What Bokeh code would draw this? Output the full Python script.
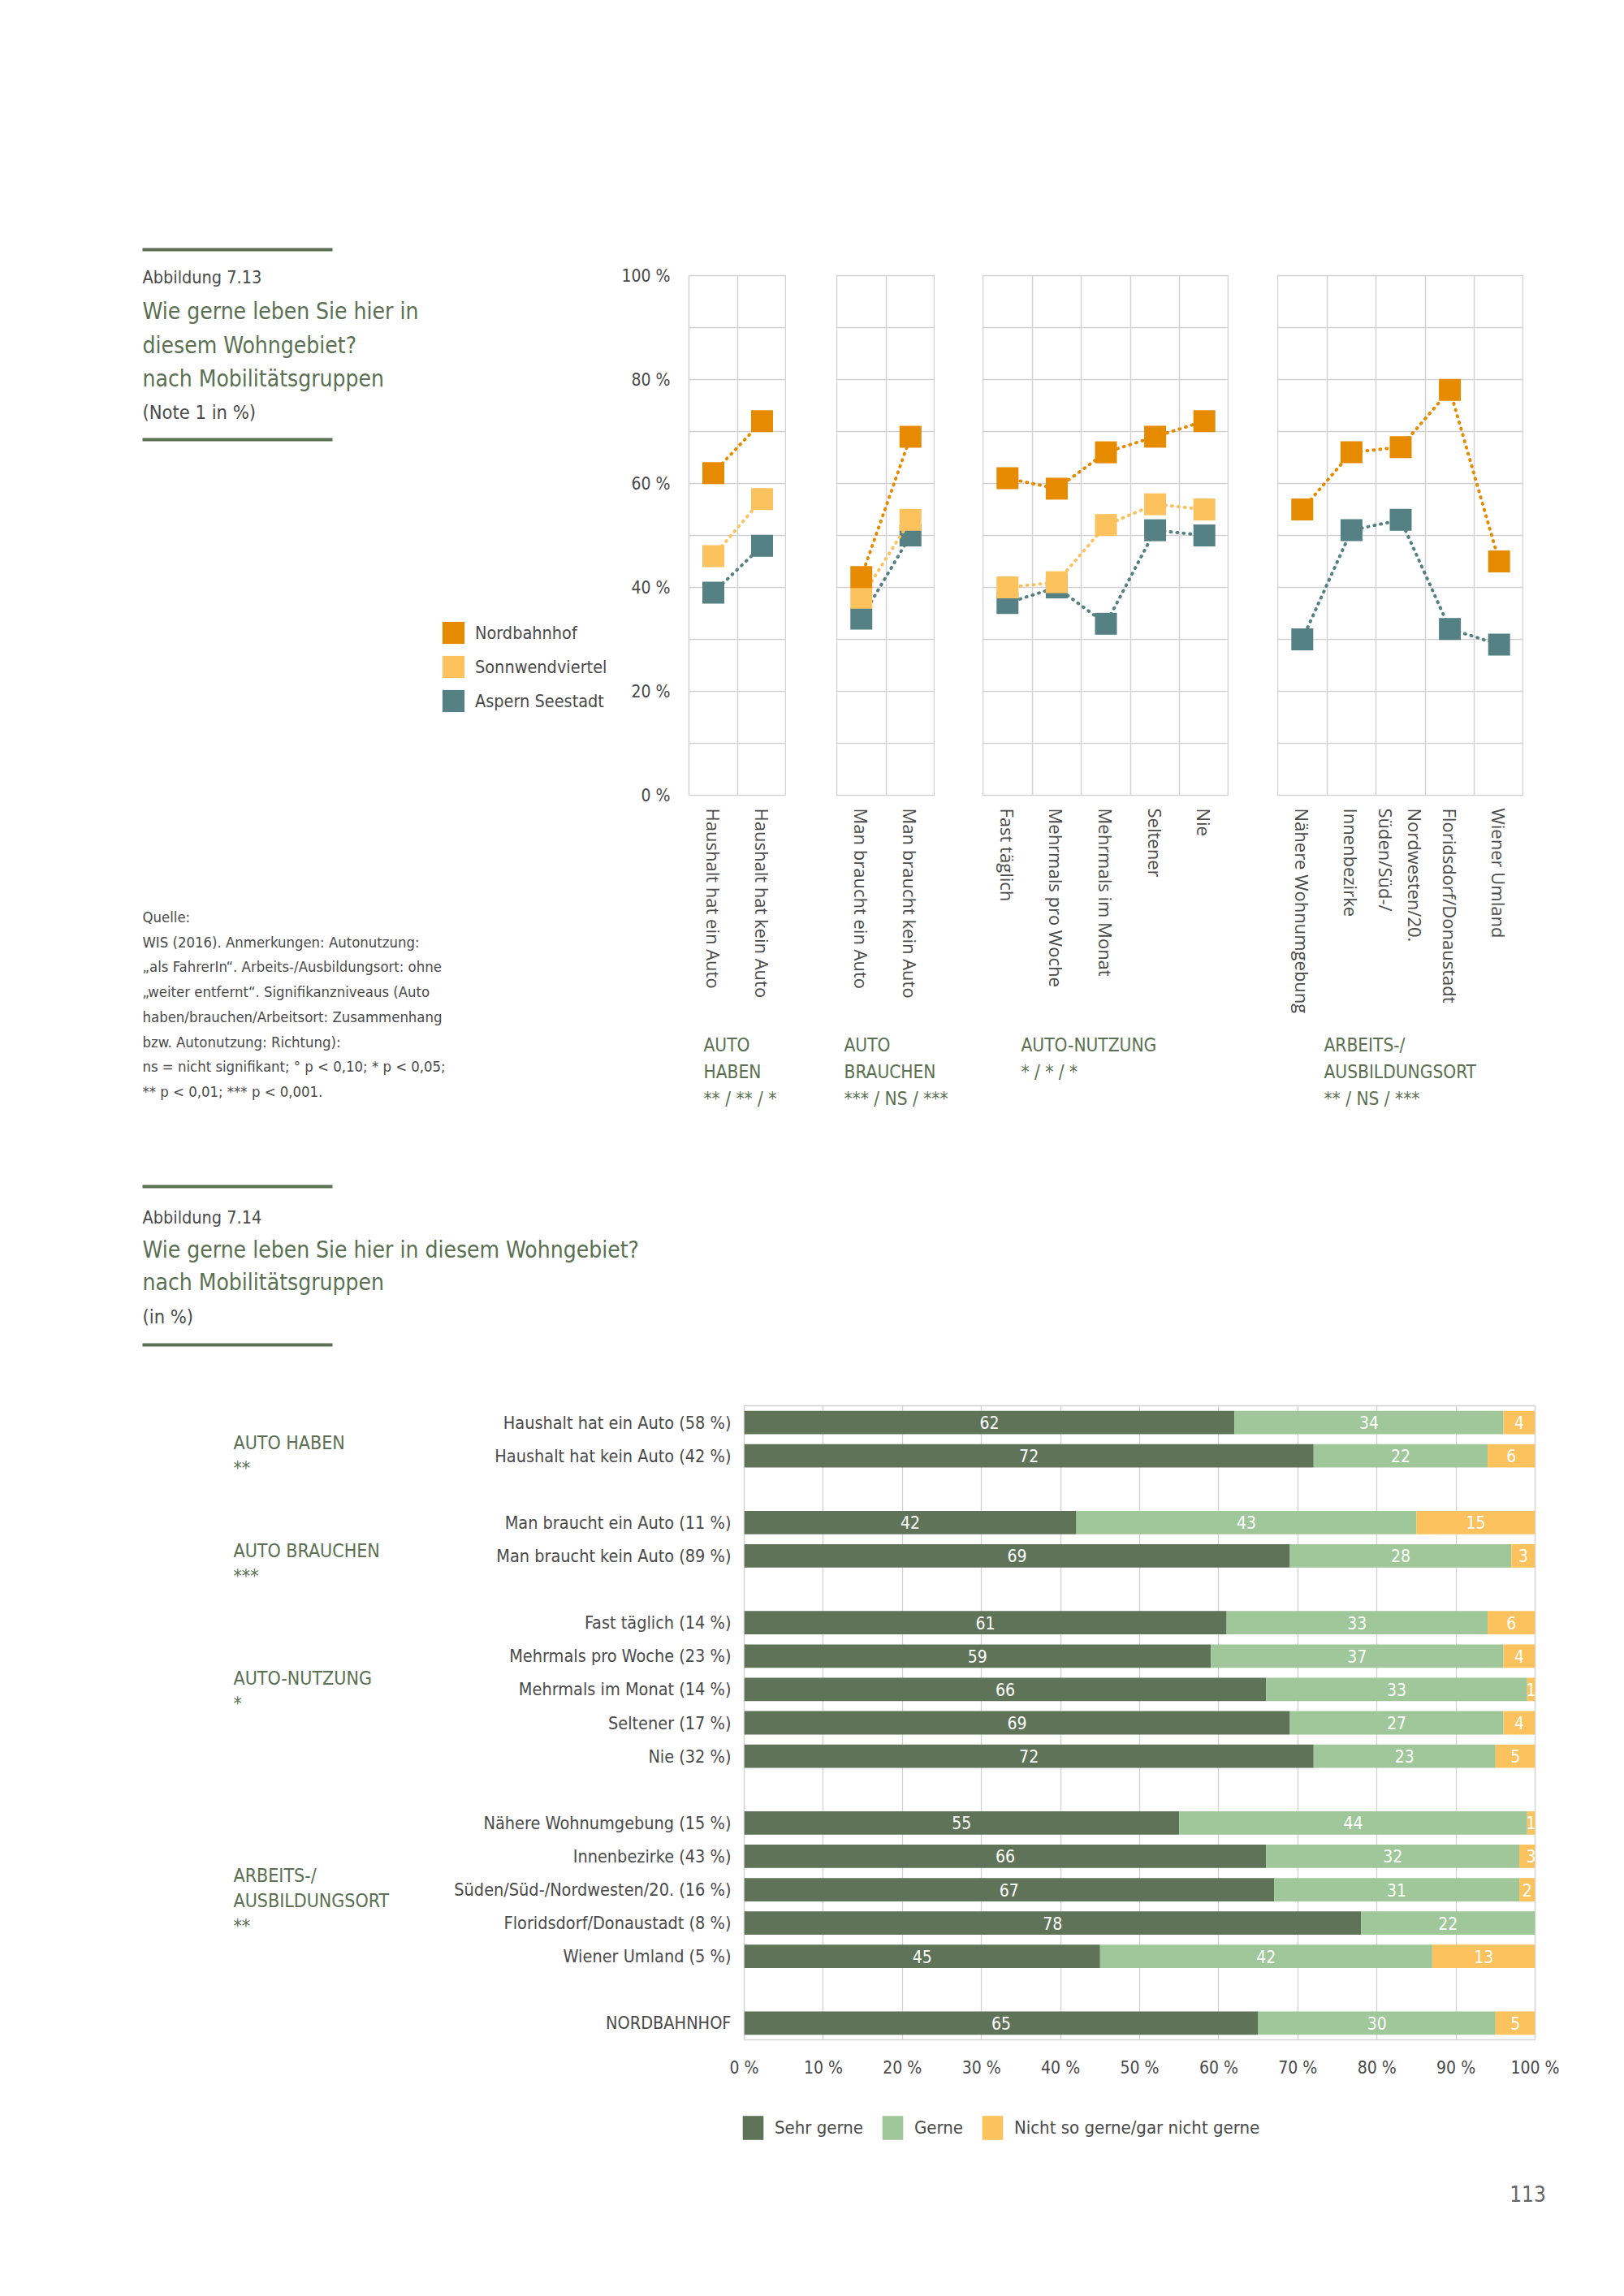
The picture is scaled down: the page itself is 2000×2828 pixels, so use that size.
from bokeh.plotting import figure
from bokeh.models import (ColumnDataSource, FactorRange, Range1d, Label, LabelSet, Legend,
                          LegendItem, Spacer, FixedTicker, BoxAnnotation)
from bokeh.layouts import row, column
from bokeh.embed import file_html
from bokeh.resources import INLINE
from bokeh.core.properties import value

# ---------------- data: Abbildung 7.13 (Note 1 in %) ----------------
series_names = ["Nordbahnhof", "Sonnwendviertel", "Aspern Seestadt"]

haben_cats = ["Haushalt hat ein Auto", "Haushalt hat kein Auto"]
haben_nordbahnhof = [62, 72]
haben_sonnwendviertel = [46, 57]
haben_aspern = [39, 48]

brauchen_cats = ["Man braucht ein Auto", "Man braucht kein Auto"]
brauchen_nordbahnhof = [42, 69]
brauchen_sonnwendviertel = [38, 53]
brauchen_aspern = [34, 50]

nutzung_cats = ["Fast täglich", "Mehrmals pro Woche", "Mehrmals im Monat", "Seltener", "Nie"]
nutzung_nordbahnhof = [61, 59, 66, 69, 72]
nutzung_sonnwendviertel = [40, 41, 52, 56, 55]
nutzung_aspern = [37, 40, 33, 51, 50]

# two-line label: Bokeh stacks rotated lines in reverse, so the second line is given first
ort_cats = ["Nähere Wohnumgebung", "Innenbezirke", "Nordwesten/20.\nSüden/Süd-/",
            "Floridsdorf/Donaustadt", "Wiener Umland"]
ort_nordbahnhof = [55, 66, 67, 78, 45]
ort_aspern = [30, 51, 53, 32, 29]

panel_groups = ["AUTO\nHABEN\n** / ** / *", "AUTO\nBRAUCHEN\n*** / NS / ***",
                "AUTO-NUTZUNG\n* / * / *", "ARBEITS-/\nAUSBILDUNGSORT\n** / NS / ***"]
y_ticks_top = [0, 20, 40, 60, 80, 100]

# ---------------- data: Abbildung 7.14 (in %) ----------------
bar_groups = ["AUTO HABEN", "AUTO HABEN",
              "AUTO BRAUCHEN", "AUTO BRAUCHEN",
              "AUTO-NUTZUNG", "AUTO-NUTZUNG", "AUTO-NUTZUNG", "AUTO-NUTZUNG", "AUTO-NUTZUNG",
              "ARBEITSORT", "ARBEITSORT", "ARBEITSORT", "ARBEITSORT", "ARBEITSORT",
              "GESAMT"]
bar_labels = ["Haushalt hat ein Auto (58 %)", "Haushalt hat kein Auto (42 %)",
              "Man braucht ein Auto (11 %)", "Man braucht kein Auto (89 %)",
              "Fast täglich (14 %)", "Mehrmals pro Woche (23 %)", "Mehrmals im Monat (14 %)",
              "Seltener (17 %)", "Nie (32 %)",
              "Nähere Wohnumgebung (15 %)", "Innenbezirke (43 %)",
              "Süden/Süd-/Nordwesten/20. (16 %)", "Floridsdorf/Donaustadt (8 %)",
              "Wiener Umland (5 %)",
              "NORDBAHNHOF"]
sehr_gerne = [62, 72, 42, 69, 61, 59, 66, 69, 72, 55, 66, 67, 78, 45, 65]
gerne = [34, 22, 43, 28, 33, 37, 33, 27, 23, 44, 32, 31, 22, 42, 30]
nicht_gerne = [4, 6, 15, 3, 6, 4, 1, 4, 5, 1, 3, 2, 0, 13, 5]
bar_series = ["Sehr gerne", "Gerne", "Nicht so gerne/gar nicht gerne"]
bar_group_texts = ["AUTO HABEN\n**", "AUTO BRAUCHEN\n***", "AUTO-NUTZUNG\n*",
                   "ARBEITS-/\nAUSBILDUNGSORT\n**"]
x_ticks_bottom = list(range(0, 101, 10))

# ---------------- styles ----------------
C_NORD = "#E68A00"
C_SONN = "#FBC25E"
C_ASP = "#558184"
C_SEHR = "#5F7359"
C_GERNE = "#A0C799"
C_NICHT = "#FBC25E"
GREEN = "#5B7052"
GREY = "#4A4A4A"
GRID = "#D2D2D2"
FONT = "DejaVu Sans Condensed"
FONT_ROT = "Open Sans"
NAN = float("nan")

TOP_B = 331      # page y 8 -> frame top 339
FRAME_H = 640    # -> frame bottom 979
PAN_BOT = 286    # -> 1265
PAN_H = TOP_B + FRAME_H + PAN_BOT
LEFT_W = 760     # left text block: page x 8..760; panel 1 frame starts at 848


def text_fig(x0, x1, y0, y1, top=0, bottom=0):
    # frame spans page y (y0+top)..(y1-bottom); data units are page pixels
    f = figure(x_range=Range1d(x0, x1), y_range=Range1d(y1 - bottom, y0 + top),
               width=x1 - x0, height=y1 - y0, min_border=0,
               min_border_top=top, min_border_bottom=bottom,
               x_axis_location=None, y_axis_location=None,
               output_backend="svg", toolbar_location=None)
    f.grid.visible = False
    f.outline_line_color = None
    return f


def put(f, px, py, text, size, color, font=FONT, align="left", baseline="middle", lh=1.2):
    f.add_layout(Label(x=px, y=py, text=text, text_font=font, text_font_size=f"{size}px",
                       text_color=color, text_align=align, text_baseline=baseline,
                       text_line_height=lh))


def rule(f, x0, x1, py):
    f.add_layout(BoxAnnotation(left=x0, right=x1, top=py - 2, bottom=py + 2,
                               fill_color=GREEN, fill_alpha=1, line_color=None))


def swatch(f, col):
    # legend-only renderer: one undefined (NaN) box, so nothing is drawn in the frame
    return f.quad(left=[NAN], right=[NAN], top=[NAN], bottom=[NAN], fill_color=col,
                  line_color=None)


def panel(cats, series, frame_w, left_b, show_y):
    p = figure(x_range=FactorRange(factors=cats, range_padding=0), y_range=Range1d(0, 100),
               width=left_b + frame_w, height=PAN_H,
               min_border_left=left_b, min_border_right=0,
               min_border_top=TOP_B, min_border_bottom=PAN_BOT,
               y_axis_location="left" if show_y else None,
               output_backend="svg", toolbar_location=None)
    p.outline_line_color = GRID
    p.outline_line_width = 1.5
    p.ygrid.ticker = FixedTicker(ticks=list(range(0, 101, 10)))
    p.ygrid.grid_line_color = GRID
    p.ygrid.grid_line_width = 1.5
    p.xgrid.ticker = FixedTicker(ticks=list(range(1, len(cats))))
    p.xgrid.grid_line_color = GRID
    p.xgrid.grid_line_width = 1.5
    ax = p.xaxis[0]
    ax.major_label_orientation = "vertical"
    ax.axis_line_color = None
    ax.major_tick_line_color = None
    ax.minor_tick_line_color = None
    ax.major_label_standoff = 10
    ax.major_label_text_font = FONT_ROT
    ax.major_label_text_font_size = "22px"
    ax.major_label_text_color = GREY
    if show_y:
        ya = p.yaxis[0]
        ya.ticker = FixedTicker(ticks=y_ticks_top)
        ya.major_label_overrides = {t: f"{t} %" for t in y_ticks_top}
        ya.axis_line_color = None
        ya.major_tick_line_color = None
        ya.minor_tick_line_color = None
        ya.major_label_standoff = 17
        ya.major_label_text_font = FONT
        ya.major_label_text_font_size = "21px"
        ya.major_label_text_color = GREY
    for name, vals, col in series:
        src = ColumnDataSource(dict(x=cats, y=vals))
        p.line("x", "y", source=src, line_color=col, line_width=4, line_dash="1 7",
               line_cap="round")
        p.scatter("x", "y", source=src, marker="square", size=27,
                  fill_color=col, line_color=None)
    return p


p1 = panel(haben_cats, [("Aspern Seestadt", haben_aspern, C_ASP),
                        ("Sonnwendviertel", haben_sonnwendviertel, C_SONN),
                        ("Nordbahnhof", haben_nordbahnhof, C_NORD)], 120, 848 - LEFT_W, True)
p2 = panel(brauchen_cats, [("Aspern Seestadt", brauchen_aspern, C_ASP),
                           ("Sonnwendviertel", brauchen_sonnwendviertel, C_SONN),
                           ("Nordbahnhof", brauchen_nordbahnhof, C_NORD)], 121, 0, False)
p3 = panel(nutzung_cats, [("Aspern Seestadt", nutzung_aspern, C_ASP),
                          ("Sonnwendviertel", nutzung_sonnwendviertel, C_SONN),
                          ("Nordbahnhof", nutzung_nordbahnhof, C_NORD)], 303, 0, False)
p4 = panel(ort_cats, [("Aspern Seestadt", ort_aspern, C_ASP),
                      ("Nordbahnhof", ort_nordbahnhof, C_NORD)], 303, 0, False)

# ---- left text block of Abbildung 7.13 (page x 8..LEFT_W, y 8..1377)
left1 = text_fig(8, LEFT_W, 8, 1377)
rule(left1, 175, 409, 307)
put(left1, 175, 341, "Abbildung 7.13", 21.5, GREY)
for i, line in enumerate(["Wie gerne leben Sie hier in", "diesem Wohngebiet?",
                          "nach Mobilitätsgruppen"]):
    put(left1, 175, 383 + i * 41.5, line, 28, GREEN)
put(left1, 175, 507, "(Note 1 in %)", 23.5, GREY)
rule(left1, 175, 409, 541)
source_lines = ["Quelle:",
                "WIS (2016).  Anmerkungen: Autonutzung:",
                "„als FahrerIn“. Arbeits-/Ausbildungsort: ohne",
                "„weiter entfernt“. Signifikanzniveaus (Auto",
                "haben/brauchen/Arbeitsort: Zusammenhang",
                "bzw. Autonutzung: Richtung):",
                "ns = nicht signifikant; ° p < 0,10; * p < 0,05;",
                "** p < 0,01; *** p < 0,001."]
for i, line in enumerate(source_lines):
    put(left1, 175, 1129 + i * 30.7, line, 18.4, GREY)

leg_items = [LegendItem(label=n, renderers=[swatch(left1, c)])
             for n, c in zip(series_names, [C_NORD, C_SONN, C_ASP])]
left1.add_layout(Legend(items=leg_items, location=(541 - 8, 1377 - 880), glyph_width=34,
                        glyph_height=34, spacing=8, label_standoff=10, padding=0, margin=0,
                        border_line_color=None, background_fill_alpha=0,
                        label_text_font=FONT, label_text_font_size="21.5px",
                        label_text_color=GREY))

# ---- group labels under the panels (page x LEFT_W..1876, y 1265..1377)
grp1 = text_fig(LEFT_W, 1876, 1265, 1377)
for gx, txt in zip([866, 1039, 1257, 1630], panel_groups):
    put(grp1, gx, 1273, txt, 22.5, GREEN, baseline="top", lh=1.27)

top_row = row(left1, column(row(p1, Spacer(width=62, height=PAN_H), p2,
                                Spacer(width=59, height=PAN_H), p3,
                                Spacer(width=60, height=PAN_H), p4), grp1))

# ---- title block of Abbildung 7.14 (page y 1377..1700)
title2 = text_fig(8, 1908, 1377, 1700)
rule(title2, 175, 409, 1461)
put(title2, 175, 1499, "Abbildung 7.14", 21.5, GREY)
put(title2, 175, 1539, "Wie gerne leben Sie hier in diesem Wohngebiet?", 28, GREEN)
put(title2, 175, 1579, "nach Mobilitätsgruppen", 28, GREEN)
put(title2, 175, 1621, "(in %)", 23.5, GREY)
rule(title2, 175, 409, 1656)

# ---- bar chart (page x 500..1950, y 1700..2572; frame x 916..1890, y 1731..2512)
factors = list(zip(bar_groups, bar_labels))
q = figure(y_range=FactorRange(factors=factors[::-1], group_padding=1, factor_padding=0,
                               range_padding=0),
           x_range=Range1d(0, 100), width=1450, height=872,
           min_border_left=416, min_border_right=60, min_border_top=31,
           min_border_bottom=60, output_backend="svg", toolbar_location=None)
q.outline_line_color = GRID
q.outline_line_width = 1.5
q.ygrid.grid_line_color = None
q.xgrid.ticker = FixedTicker(ticks=x_ticks_bottom)
q.xgrid.grid_line_color = GRID
q.xgrid.grid_line_width = 1.3

src = ColumnDataSource(dict(y=factors, s1=sehr_gerne, s2=gerne, s3=nicht_gerne))
bars = q.hbar_stack(["s1", "s2", "s3"], y="y", height=0.7, source=src,
                    color=[C_SEHR, C_GERNE, C_NICHT], line_color=None)

lx, ly, lt = [], [], []
for f, a, b, c in zip(factors, sehr_gerne, gerne, nicht_gerne):
    start = 0
    for v in (a, b, c):
        if v > 0:
            lx.append(start + v / 2)
            ly.append(f)
            lt.append(str(v))
        start += v
q.add_layout(LabelSet(x="x", y="y", text="t",
                      source=ColumnDataSource(dict(x=lx, y=ly, t=lt)),
                      text_align="center", text_baseline="middle", text_color="white",
                      text_font=value(FONT), text_font_size="21px"))

xa = q.xaxis[0]
xa.ticker = FixedTicker(ticks=x_ticks_bottom)
xa.major_label_overrides = {t: f"{t} %" for t in x_ticks_bottom}
xa.axis_line_color = None
xa.major_tick_line_color = None
xa.minor_tick_line_color = None
xa.major_label_standoff = 16
xa.major_label_text_font = FONT
xa.major_label_text_font_size = "21px"
xa.major_label_text_color = GREY

ya = q.yaxis[0]
ya.axis_line_color = None
ya.major_tick_line_color = None
ya.minor_tick_line_color = None
ya.major_label_standoff = 10
ya.major_label_text_font = FONT
ya.major_label_text_font_size = "21.5px"
ya.major_label_text_color = GREY
ya.group_text_color = None
ya.group_text_font_size = "1px"
ya.separator_line_color = None

# ---- group labels left of the bar chart (page x 8..500, frame y 1731..2512 like q)
grp2 = text_fig(8, 500, 1700, 2572, top=31, bottom=60)
for gy, txt in zip([1763, 1896, 2053, 2296], bar_group_texts):
    put(grp2, 287, gy, txt, 23, GREEN, baseline="top", lh=1.2)

# ---- legend and page number (page y 2572..2812)
foot = text_fig(8, 1908, 2572, 2812)
items2 = [LegendItem(label=n, renderers=[swatch(foot, c)])
          for n, c in zip(bar_series, [C_SEHR, C_GERNE, C_NICHT])]
foot.add_layout(Legend(items=items2, orientation="horizontal",
                       location=(911 - 8, 2812 - 2639), glyph_width=32, glyph_height=37,
                       spacing=20, label_standoff=11, padding=0, margin=0,
                       border_line_color=None, background_fill_alpha=0,
                       label_text_font=FONT, label_text_font_size="22px",
                       label_text_color=GREY))
put(foot, 1881, 2701, "113", 26, "#666666", align="center")

page = column(top_row, title2, row(grp2, q), foot)
layout = column(Spacer(width=10, height=8), row(Spacer(width=8, height=10), page))
open("out.html", "w").write(file_html(layout, INLINE))
